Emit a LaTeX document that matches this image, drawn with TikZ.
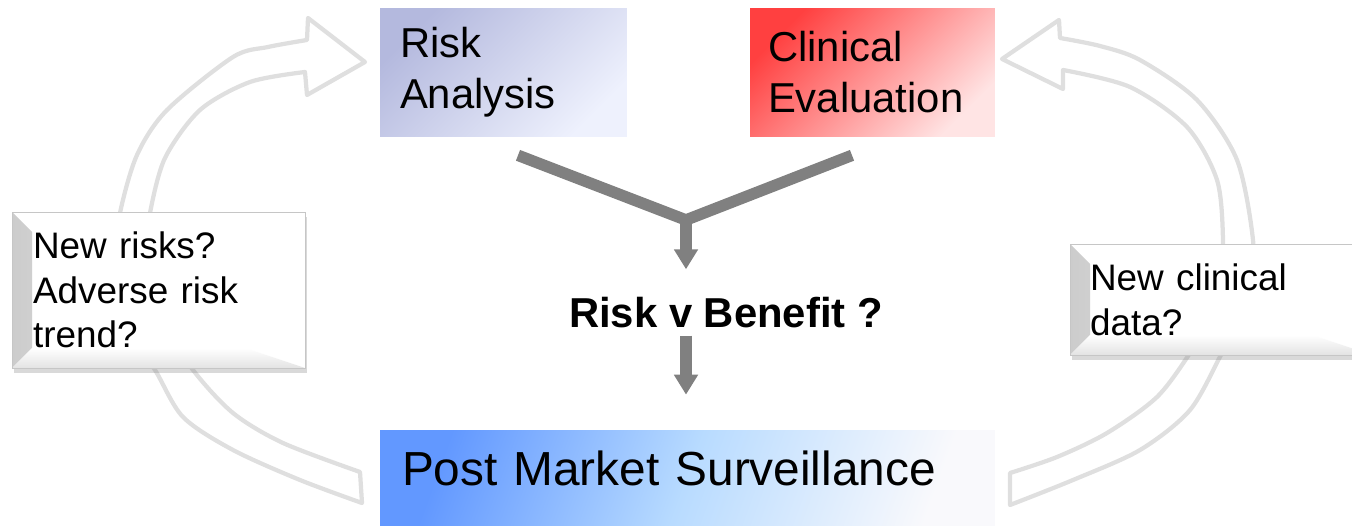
\documentclass[tikz,border=0pt]{standalone}
\usepackage{fontspec}
\setmainfont{Liberation Sans}
\usetikzlibrary{arrows.meta, shadows}

\definecolor{riskblue}{HTML}{B4B9DE}
\definecolor{riskpale}{HTML}{EEF1FD}
\definecolor{clinred}{HTML}{FF4040}
\definecolor{clinpale}{HTML}{FFE4E4}
\definecolor{pmsblue}{HTML}{6298FF}
\definecolor{pmsmid}{HTML}{B8DBFF}
\definecolor{pmspale}{HTML}{F9F9FC}

\begin{document}
\begin{tikzpicture}[x=0.02cm, y=-0.02cm,
    stagebox/.style={inner ysep=0pt, align=left, minimum height=2.58cm,
        font=\fontsize{23.8}{29}\selectfont},
    notebox/.style={draw=gray!45, fill=white, align=left, inner ysep=0pt,
        font=\fontsize{21}{25.5}\selectfont,
        drop shadow={shadow xshift=1pt, shadow yshift=-3pt, opacity=0.3},
        path picture={
            % bevelled edges
            \shade[left color=gray!40, right color=white]
                (path picture bounding box.south west) -- (path picture bounding box.north west)
                -- ([shift={(0.4cm,-0.4cm)}]path picture bounding box.north west)
                -- ([shift={(0.4cm,0.4cm)}]path picture bounding box.south west) -- cycle;
            \shade[bottom color=gray!22, top color=white]
                (path picture bounding box.south west)
                -- ([shift={(0.4cm,0.4cm)}]path picture bounding box.south west)
                -- ([shift={(-1.2cm,0.4cm)}]path picture bounding box.south east)
                -- (path picture bounding box.south east) -- cycle;}},
    loopband/.style={draw=gray!25, line width=0.085cm, line join=round},
    flow/.style={draw=gray, line width=0.23cm},
    flowtip/.style={flow, -{Triangle[width=0.46cm, length=0.4cm]}}]
    \useasboundingbox (0,0) rectangle (1352,526);

    % Feedback loops
    \draw[loopband] plot[smooth] coordinates {(362,503) (300,480) (233,450) (183,417)
        (155,370) (130,335) (118,300) (115,262) (120,213) (137,155) (167,110)
        (233,57) (268,47) (307,40)}
        -- (308,18) -- (365,62) -- (307,95)
        -- plot[smooth] coordinates {(305,72) (250,82) (200,110) (165,158) (150,213)
        (148,245) (152,280) (162,320) (193,370) (233,413) (283,443) (360,472)}
        -- cycle;
    \draw[loopband] plot[smooth] coordinates {(1010,505) (1073,480) (1140,450) (1190,410)
        (1222,353) (1240,320) (1250,285) (1253,240) (1237,160) (1197,100)
        (1140,60) (1100,46) (1060,38)}
        -- (1059,20) -- (1002,59) -- (1063,89)
        -- plot[smooth] coordinates {(1063,70) (1130,87) (1187,127) (1217,180)
        (1223,240) (1220,280) (1208,320) (1190,353) (1157,397) (1107,433)
        (1057,457) (1010,473)}
        -- cycle;

    % Inputs
    \node[stagebox, text width=4.14cm, inner xsep=0.4cm,
        left color=riskblue, right color=riskpale, shading angle=45] (ra) at (503.5,72.5) {Risk\\Analysis};
    \node[stagebox, text width=4.18cm, inner xsep=0.36cm,
        left color=clinred, right color=clinpale, shading angle=45] (ce) at (872.5,72.5) {Clinical\\Evaluation};

    \node[font=\bfseries\fontsize{23.8}{29}\selectfont, inner sep=0pt] (rb) at (726,313) {Risk v Benefit ?};

    \node[stagebox, text width=11.42cm, inner xsep=0.44cm, minimum height=1.92cm,
        text depth=0.41cm, font=\fontsize{27.2}{32}\selectfont,
        left color=pmsblue, right color=pmspale, middle color=pmsmid,
        shading angle=70] (pms) at (687.5,478) {Post Market Surveillance};

    % Questions fed back
    \node[notebox, text width=5.02cm, inner xsep=0.42cm, minimum height=3.12cm] (nr) at (158.5,290)
        {New risks?\\Adverse risk\\trend?};
    \node[notebox, text width=5.24cm, inner xsep=0.4cm, minimum height=2.22cm] (nc) at (1221,299.5)
        {New clinical\\data?};

    \coordinate (join) at (686,220);
    \draw[flow] ([xshift=0.29cm, yshift=-0.36cm]ra.south) -- (join)
        -- ([xshift=-0.41cm, yshift=-0.36cm]ce.south);
    \draw[flowtip, shorten >=0.56cm] (join) -- (rb.north -| join);
    \draw[flowtip, shorten <=0.14cm, shorten >=0.7cm] (rb.south -| join) -- (pms.north -| join);
\end{tikzpicture}
\end{document}
